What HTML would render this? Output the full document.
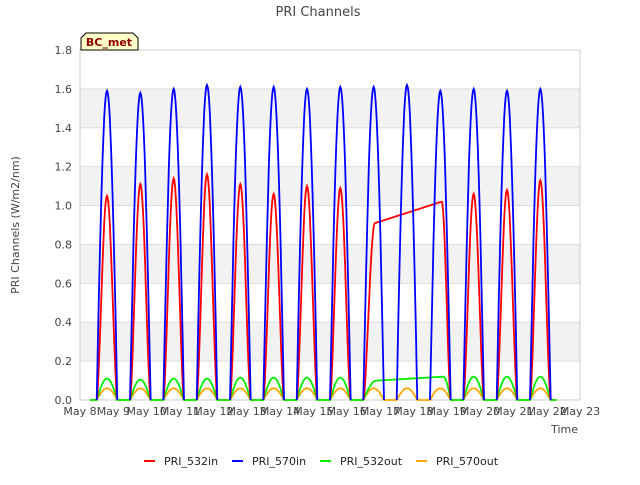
<!DOCTYPE html>
<html><head><meta charset="utf-8"><style>
body{margin:0;background:#fff}
svg text{font-family:"DejaVu Sans","Liberation Sans",sans-serif}
</style></head><body>
<svg id="c" width="640" height="480" xmlns="http://www.w3.org/2000/svg">
<rect width="640" height="480" fill="#fff"/>
<text x="318" y="16" font-size="13" fill="#444" text-anchor="middle">PRI Channels</text>
<g id="bands"></g>
<rect x="80" y="50" width="500" height="350" fill="none" stroke="#ccc"/>
<g id="axes"></g>
<g id="series"></g>
<text x="19" y="225" font-size="11" fill="#444" text-anchor="middle" transform="rotate(-90 19 225)">PRI Channels (W/m2/nm)</text>
<text x="578" y="433" font-size="11" fill="#444" text-anchor="end">Time</text>
<g>
<path d="M81,50 L81,38 L86,33 L133,33 L138,38 L138,50 Z" fill="#ffffc8" stroke="#000"/>
<text x="109" y="46" font-size="11" font-weight="bold" fill="#8b0000" text-anchor="middle">BC_met</text>
</g>
<g id="legend"></g>
</svg>
<script>
const days=[8,9,10,11,12,13,14,15,16,17,18,19,20,21];
const xTickLabels=["May 8","May 9","May 10","May 11","May 12","May 13","May 14","May 15","May 16","May 17","May 18","May 19","May 20","May 21","May 22","May 23"];
const yTicks=[0,0.2,0.4,0.6,0.8,1.0,1.2,1.4,1.6,1.8];
const blueP=[1.59,1.58,1.60,1.62,1.61,1.61,1.60,1.61,1.61,1.62,1.59,1.60,1.59,1.60];
const redP=[1.05,1.11,1.14,1.16,1.11,1.06,1.10,1.09,null,null,null,1.06,1.08,1.13];
const greenP=[0.11,0.105,0.11,0.11,0.115,0.115,0.115,0.115,null,null,null,0.12,0.12,0.12];
const orangeP=[0.06,0.06,0.06,0.06,0.06,0.06,0.06,0.06,0.06,0.06,0.06,0.06,0.06,0.06];
const redBridge=[[16.85,0.91],[18.85,1.02]];
const greenBridge=[[16.9,0.10],[18.9,0.12]];
const NS="http://www.w3.org/2000/svg";
const X=d=>80+(d-8)*500/15, Y=v=>400-v*350/1.8;
function mk(t,a,p){const e=document.createElementNS(NS,t);for(const k in a)e.setAttribute(k,a[k]);(p||document.getElementById('c')).appendChild(e);return e;}
const bands=document.getElementById('bands'),axes=document.getElementById('axes'),ser=document.getElementById('series');
yTicks.forEach((v,i)=>{
 if(i%2==1&&i<yTicks.length-1){const b=mk('rect',{x:80,y:Y(yTicks[i+1]),width:500,height:Y(v)-Y(yTicks[i+1]),fill:'#f2f2f2'},bands);
 }
 const l=mk('line',{x1:80,x2:580,y1:Y(v),y2:Y(v),stroke:'#ddd'},bands);
 
 const t=mk('text',{x:72,y:Y(v)+4,'font-size':11,fill:'#444','text-anchor':'end'},axes);t.textContent=v.toFixed(1);
 
});
xTickLabels.forEach((s,i)=>{const t=mk('text',{x:X(8+i),y:415,'font-size':11,fill:'#444','text-anchor':'middle'},axes);t.textContent=s;
 });
const s0=0.5,s1=1.12,N=30;
function shape(f,pow){return Math.pow(Math.sin(Math.PI*f),pow);}
function pulse(d,p,pow){const pts=[];for(let k=0;k<=N;k++){const f=k/N;pts.push([d+s0+(s1-s0)*f,p*shape(f,pow)]);}return pts;}
function build(peaks,pow,bridge,baseline){
 const segs=[];let cur=baseline?[[8.3,0]]:null;
 const push=pts=>{if(baseline){cur=cur.concat(pts);}else segs.push(pts);};
 peaks.forEach((p,i)=>{const d=days[i];
  if(p===null){
   if(bridge&&d===16){const pts=[];
    for(let k=0;k<=N;k++){const t=d+s0+(bridge[0][0]-d-s0)*k/N;const f=0.5*k/N;pts.push([t,bridge[0][1]*shape(f,pow)]);}
    pts.push(bridge[1]);
    for(let k=1;k<=N;k++){const t=bridge[1][0]+(18+s1-bridge[1][0])*k/N;const f=0.5+0.5*k/N;pts.push([t,bridge[1][1]*shape(f,pow)]);}
    push(pts);}
   return;}
  push(pulse(d,p,pow));
 });
 if(baseline){cur.push([22.3,0]);segs.push(cur);}
 return segs;}
function draw(segs,color,name){const d=segs.map(pts=>pts.map((q,i)=>(i?'L':'M')+X(q[0]).toFixed(1)+','+Y(q[1]).toFixed(1)).join('')).join('');
 const p=mk('path',{d:d,fill:'none',stroke:color,'stroke-width':1.8},ser);
 }
draw(build(orangeP,1,null,true),'#ffa500','series-pri-570out');
draw(build(greenP,1,greenBridge,true),'#00ee00','series-pri-532out');
draw(build(redP,1.6,redBridge,false),'#ff0000','series-pri-532in');
draw(build(blueP,1,null,false),'#0000ff','series-pri-570in');
const leg=[["PRI_532in","#ff0000",144],["PRI_570in","#0000ff",232],["PRI_532out","#00ee00",320],["PRI_570out","#ffa500",416]];
const lg=document.getElementById('legend');
leg.forEach(e=>{const g=mk('g',{},lg);
 mk('line',{x1:e[2],x2:e[2]+11,y1:461,y2:461,stroke:e[1],'stroke-width':2},g);
 const t=mk('text',{x:e[2]+20,y:465,'font-size':11,fill:'#222'},g);t.textContent=e[0];});
</script>
</body></html>
